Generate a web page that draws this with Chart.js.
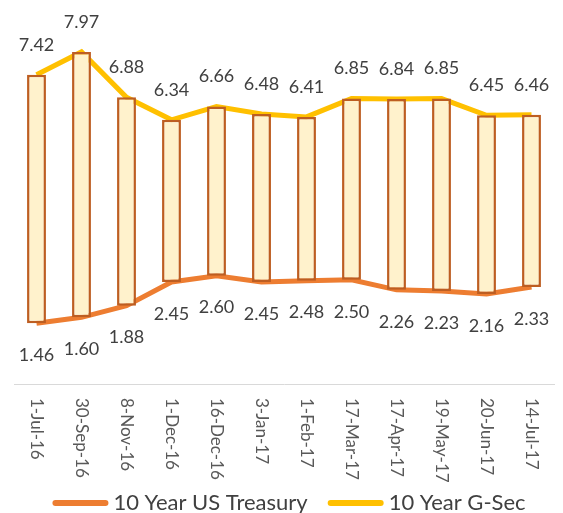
<!DOCTYPE html>
<html>
<head>
<meta charset="utf-8">
<script src="https://cdn.jsdelivr.net/npm/chart.js@4/dist/chart.umd.min.js"></script>
<style>
html,body{margin:0;padding:0;background:#fff;}
#wrap{width:563px;height:513px;position:relative;}
</style>
</head>
<body>
<div id="wrap"><canvas id="c" width="563" height="513"></canvas></div>
<script>
const dates = ['1-Jul-16','30-Sep-16','8-Nov-16','1-Dec-16','16-Dec-16','3-Jan-17','1-Feb-17','17-Mar-17','17-Apr-17','19-May-17','20-Jun-17','14-Jul-17'];
const gsec = [7.42,7.97,6.88,6.34,6.66,6.48,6.41,6.85,6.84,6.85,6.45,6.46];
const usTreasury = [1.46,1.60,1.88,2.45,2.60,2.45,2.48,2.50,2.26,2.23,2.16,2.33];
const seriesNames = ['10 Year US Treasury','10 Year G-Sec'];

const FONT = 'Lato, "Open Sans", sans-serif';

const labelPlugin = {
  id: 'customLabels',
  afterDatasetsDraw(chart) {
    const ctx = chart.ctx;
    ctx.save();
    ctx.font = '18px ' + FONT;
    ctx.fillStyle = '#404040';
    ctx.textAlign = 'center';
    ctx.textBaseline = 'middle';
    const usMeta = chart.getDatasetMeta(1);
    const gMeta = chart.getDatasetMeta(2);
    gMeta.data.forEach((p, i) => {
      ctx.fillText(gsec[i].toFixed(2), p.x, p.y - 30);
    });
    usMeta.data.forEach((p, i) => {
      ctx.fillText(usTreasury[i].toFixed(2), p.x, p.y + 32);
    });
    // x labels rotated clockwise
    const xs = chart.scales.x;
    ctx.font = '17px ' + FONT;
    ctx.fillStyle = '#595959';
    ctx.textAlign = 'left';
    ctx.textBaseline = 'middle';
    dates.forEach((d, i) => {
      const x = xs.getPixelForTick(i);
      ctx.save();
      ctx.translate(x, xs.top + 14);
      ctx.rotate(Math.PI / 2);
      ctx.fillText(d, 0, 0);
      ctx.restore();
    });
    // legend
    ctx.font = '22px ' + FONT;
    ctx.textAlign = 'left';
    ctx.textBaseline = 'middle';
    const lineLen = 56, gapText = 5, gapItems = 20;
    const items = [1, 2].map(di => ({
      text: chart.data.datasets[di].label,
      color: chart.data.datasets[di].borderColor
    }));
    const widths = items.map(it => ctx.measureText(it.text).width);
    const total = items.length * (lineLen + gapText) + widths.reduce((a, b) => a + b, 0) + gapItems * (items.length - 1);
    const ca = chart.chartArea;
    let x = (ca.left + ca.right) / 2 + 5 - total / 2;
    const y = 503;
    items.forEach((it, k) => {
      ctx.strokeStyle = it.color;
      ctx.lineWidth = 6;
      ctx.lineCap = 'round';
      ctx.beginPath();
      ctx.moveTo(x + 3, y);
      ctx.lineTo(x + lineLen - 3, y);
      ctx.stroke();
      ctx.fillStyle = '#404040';
      ctx.fillText(it.text, x + lineLen + gapText, y);
      x += lineLen + gapText + widths[k] + gapItems;
    });
    ctx.restore();
  }
};

new Chart(document.getElementById('c'), {
  data: {
    labels: dates,
    datasets: [
      {
        type: 'bar',
        label: 'range',
        data: usTreasury.map((u, i) => [u, gsec[i]]),
        backgroundColor: '#FFF2CC',
        borderColor: '#BD5E22',
        borderWidth: 2.5,
        borderSkipped: false,
        barPercentage: 0.42,
        categoryPercentage: 1.0,
        order: 0
      },
      {
        type: 'line',
        label: seriesNames[0],
        data: usTreasury,
        borderColor: '#ED7D31',
        backgroundColor: '#ED7D31',
        borderWidth: 5,
        pointRadius: 0,
        tension: 0,
        order: 1
      },
      {
        type: 'line',
        label: seriesNames[1],
        data: gsec,
        borderColor: '#FFC000',
        backgroundColor: '#FFC000',
        borderWidth: 5,
        pointRadius: 0,
        tension: 0,
        order: 2
      }
    ]
  },
  options: {
    responsive: false,
    animation: false,
    layout: { padding: { left: 14, right: 9, top: 9, bottom: 0 } },
    scales: {
      x: {
        grid: { display: false },
        border: { display: true, color: '#D9D9D9', width: 1 },
        ticks: { display: false },
        afterFit(s) { s.height = 129; }
      },
      y: {
        display: false,
        min: 0,
        max: 9
      }
    },
    plugins: {
      tooltip: { enabled: false },
      legend: { display: false }
    }
  },
  plugins: [labelPlugin]
});
</script>
</body>
</html>
